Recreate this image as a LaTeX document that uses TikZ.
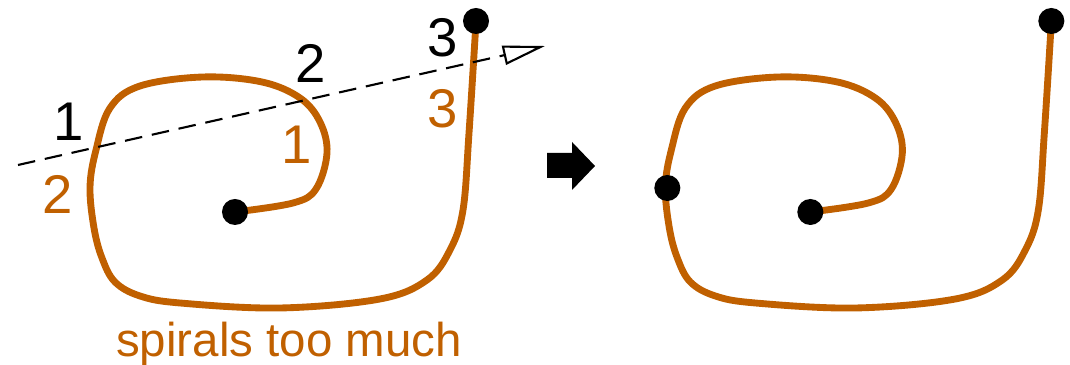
\documentclass[tikz,border=0pt]{standalone}
\usepackage{fontspec}
\setmainfont{Liberation Sans}
\usetikzlibrary{arrows.meta}
\definecolor{spiralorange}{RGB}{192,96,0}
\tikzset{
  spiral/.style={draw=spiralorange, line width=1.95pt, line cap=round, line join=round},
  enddot/.style={circle, fill=black, inner sep=0pt, minimum size=0.26cm},
  blacknum/.style={inner sep=0pt, font=\fontsize{15.5}{18}\selectfont},
  orangenum/.style={inner sep=0pt, text=spiralorange, font=\fontsize{15.5}{18}\selectfont},
  cutline/.style={line width=0.6pt, dash pattern=on 5pt off 2.8pt,
    -{Triangle[open, length=12pt, width=5.5pt, line width=0.6pt]}}
}
\begin{document}
\begin{tikzpicture}[x=0.01cm, y=-0.01cm]
  \useasboundingbox (0,0) rectangle (1070,365);
  \def\spiralpath{plot[smooth, tension=0.6] coordinates {
    (235,212) (293,203) (316,189) (327,153) (320,122) (300,98) (262,82) (203,77)
    (140,86) (110,108) (96,150) (90,187) (94,228) (102,258) (115,282)
    (140,296) (180,303) (280,308) (380,299) (427,280) (450,250) (463,210)
    (469,133) (476,22)}}

  % left: spirals too much
  \draw[spiral] \spiralpath;
  \node[enddot] (lc) at (235,212) {};
  \node[enddot] (le) at (476,21) {};

  \coordinate (cutstart) at (18,165);
  \coordinate (cutend) at (545,46);
  \draw[cutline] (cutstart) -- (cutend);

  \node[blacknum] (b1) at (69,122) {1};
  \node[blacknum] (b2) at (311,63) {2};
  \node[blacknum] (b3) at (443,38) {3};
  \node[orangenum] (o1) at (297,145) {1};
  \node[orangenum] (o2) at (58,194) {2};
  \node[orangenum] (o3) at (443,109) {3};

  \node[anchor=base, inner sep=0pt, text=spiralorange, font=\fontsize{13.5}{16}\selectfont]
    (caption) at (289,357) {spirals too much};

  % arrow between the two
  \fill (547,153) -- (572,153) -- (572,142) -- (595,166) -- (572,190) -- (572,178) -- (547,178) -- cycle;

  % right: split
  \begin{scope}[xshift=5.75cm]
    \draw[spiral] \spiralpath;
    \node[enddot] (rc) at (235,212) {};
    \node[enddot] (rm) at (92,188) {};
    \node[enddot] (re) at (476,21) {};
  \end{scope}
\end{tikzpicture}
\end{document}
